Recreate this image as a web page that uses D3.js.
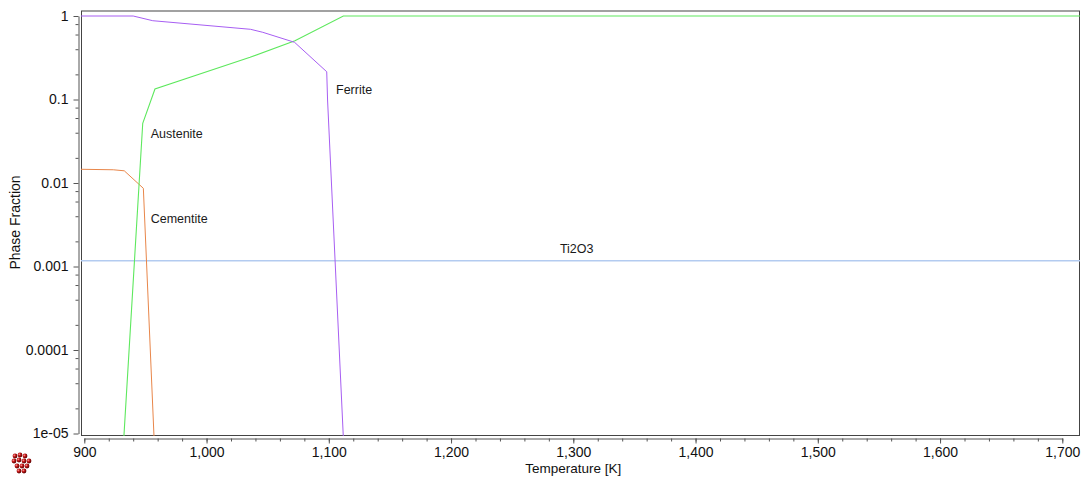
<!DOCTYPE html>
<html><head><meta charset="utf-8">
<script src="https://cdn.jsdelivr.net/npm/d3@7"></script>
<style>
html,body{margin:0;padding:0;background:#fff;}
svg{display:block;font-family:"Liberation Sans",Arial,sans-serif;}
</style></head>
<body>
<svg id="c" width="1085" height="477"></svg>
<script>
// ---- data ----
const xTicks = [900, 1000, 1100, 1200, 1300, 1400, 1500, 1600, 1700];
const yTicks = [1, 0.1, 0.01, 0.001, 0.0001, 0.00001];
const yTickLabels = ["1", "0.1", "0.01", "0.001", "0.0001", "1e-05"];

const ferriteT = [897, 940, 956, 1036, 1046, 1072, 1098.3, 1099, 1112.7];
const ferriteV = [1, 1, 0.878, 0.693, 0.638, 0.484, 0.215, 0.0986, 5e-6];

const austeniteT = [931.3, 947.8, 957.8, 1035.6, 1072.3, 1111.9, 1716];
const austeniteV = [5e-6, 0.0519, 0.1336, 0.320, 0.506, 1.0, 1.0];

const cementiteT = [897, 923.7, 932.7, 948.3, 957.8];
const cementiteV = [0.0146, 0.0144, 0.0140, 0.00864, 5e-6];

const ti2o3T = [897, 1716];
const ti2o3V = [0.001174, 0.001174];

const seriesNames = ["Ferrite", "Austenite", "Cementite", "Ti2O3"];
const seriesLabelT = [1105.9, 954.3, 954.3, 1302.8];
const seriesLabelV = [0.1164, 0.0349, 0.00329, 0.00147];

// ---- layout ----
const svg = d3.select("#c");
const frame = {l: 81, r: 1080, t: 10.5, b: 436};
const x = d3.scaleLinear().domain([900, 1700]).range([84.3, 1062.3]);
const y = d3.scaleLog().domain([1e-5, 1]).range([433.5, 16]);

const defs = svg.append("defs");
defs.append("clipPath").attr("id", "clip").append("rect")
  .attr("x", frame.l).attr("y", frame.t)
  .attr("width", frame.r - frame.l).attr("height", frame.b - frame.t);

// frame
svg.append("rect").attr("x", frame.l + 0.5).attr("y", frame.t + 0.5)
  .attr("width", frame.r - frame.l - 1).attr("height", frame.b - frame.t - 1)
  .attr("fill", "none").attr("stroke", "#444").attr("stroke-width", 1);

// series
const series = [
  {T: ferriteT, V: ferriteV, color: "#a75ef2", w: 1},
  {T: austeniteT, V: austeniteV, color: "#5ee85e", w: 1.1},
  {T: cementiteT, V: cementiteV, color: "#e8864a", w: 1},
  {T: ti2o3T, V: ti2o3V, color: "#b3cbf0", w: 1.6}
];
const line = d3.line().x(d => x(d[0])).y(d => y(d[1]));
const g = svg.append("g").attr("clip-path", "url(#clip)");
series.slice().reverse().forEach(s => {
  g.append("path").datum(s.T.map((t, i) => [t, s.V[i]]))
    .attr("d", line).attr("fill", "none")
    .attr("stroke", s.color).attr("stroke-width", s.w);
});

// series labels
const anchors = ["start", "start", "start", "middle"];
seriesNames.forEach((n, i) => {
  svg.append("text").attr("x", x(seriesLabelT[i])).attr("y", y(seriesLabelV[i]))
    .attr("text-anchor", anchors[i]).attr("font-size", 12.5).attr("fill", "#1a1a1a").text(n);
});

// x axis
const xMinor = d3.range(900, 1701, 20);
const xAxisY = 438.5;
svg.append("g").attr("transform", `translate(0,${xAxisY})`)
  .call(d3.axisBottom(x).tickValues(xMinor).tickSize(3).tickSizeOuter(0).tickFormat(""))
  .call(a => a.selectAll("line,path").attr("stroke", "#555"));
svg.append("g").attr("transform", `translate(0,${xAxisY})`)
  .call(d3.axisBottom(x).tickValues(xTicks).tickSize(5).tickSizeOuter(0).tickPadding(3.5)
    .tickFormat(d3.format(",")))
  .call(a => a.select(".domain").remove())
  .call(a => a.selectAll("line").attr("stroke", "#555"))
  .call(a => a.selectAll("text").attr("font-size", 14).attr("fill", "#111")
    .attr("font-family", "'Liberation Sans',Arial,sans-serif"));

// y axis
const yMinor = [];
[1e-5, 1e-4, 1e-3, 1e-2, 1e-1].forEach(d => [2, 4, 6, 8].forEach(m => yMinor.push(d * m)));
const yAxisX = 78.5;
svg.append("g").attr("transform", `translate(${yAxisX},0)`)
  .call(d3.axisLeft(y).tickValues(yMinor).tickSize(3).tickSizeOuter(0).tickFormat(""))
  .call(a => a.selectAll("line,path").attr("stroke", "#555"));
svg.append("g").attr("transform", `translate(${yAxisX},0)`)
  .call(d3.axisLeft(y).tickValues(yTicks).tickSize(5).tickSizeOuter(0).tickPadding(5)
    .tickFormat((d, i) => yTickLabels[i]))
  .call(a => a.select(".domain").remove())
  .call(a => a.selectAll("line").attr("stroke", "#555"))
  .call(a => a.selectAll("text").attr("font-size", 14).attr("fill", "#111")
    .attr("font-family", "'Liberation Sans',Arial,sans-serif"));

// axis titles
svg.append("text").attr("x", (x(900) + x(1700)) / 2).attr("y", 473)
  .attr("text-anchor", "middle").attr("font-size", 13.5).attr("fill", "#111")
  .text("Temperature [K]");
svg.append("text").attr("transform", "translate(19.5,222.5) rotate(-90)")
  .attr("text-anchor", "middle").attr("font-size", 14).attr("fill", "#111")
  .text("Phase Fraction");

// small logo of red spheres (decoration)
const grad = defs.append("radialGradient").attr("id", "ball").attr("cx", "35%").attr("cy", "35%").attr("r", "65%");
grad.append("stop").attr("offset", "0%").attr("stop-color", "#ff9a9a");
grad.append("stop").attr("offset", "45%").attr("stop-color", "#c01818");
grad.append("stop").attr("offset", "100%").attr("stop-color", "#5a0000");
const balls = [[15,456],[20,455],[25,456],[14,461],[19,460],[24,461],[29,461],[17,466],[22,466],[27,466],[19,471],[24,471]];
svg.append("g").selectAll("circle").data(balls).join("circle")
  .attr("cx", d => d[0]).attr("cy", d => d[1]).attr("r", 2.4).attr("fill", "url(#ball)");
</script>
</body></html>
